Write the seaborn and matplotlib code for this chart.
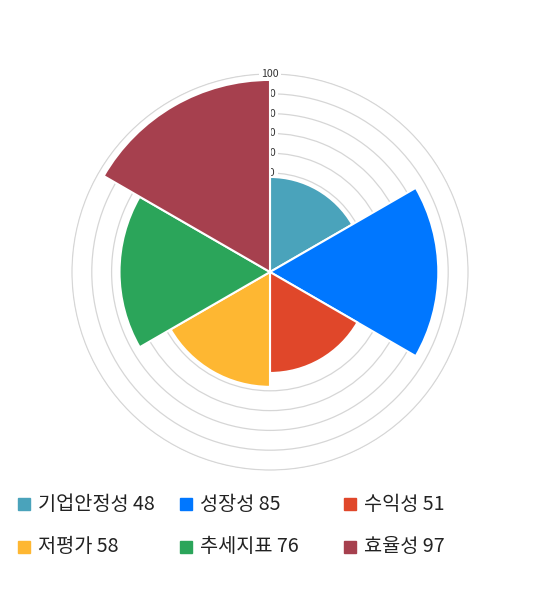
import numpy as np
import matplotlib
matplotlib.use("Agg")
import matplotlib.pyplot as plt
import seaborn as sns

# data
categories = ["기업안정성", "성장성", "수익성", "저평가", "추세지표", "효율성"]
scores = [48, 85, 51, 58, 76, 97]
colors = ["#4aa3bb", "#0077ff", "#e0472a", "#feb732", "#2ba55a", "#a6404e"]
ring_values = [10, 20, 30, 40, 50, 60, 70, 80, 90, 100]

sns.set_theme(style="white")
plt.rcParams["font.family"] = ["Noto Sans CJK KR", "DejaVu Sans"]

fig = plt.figure(figsize=(5.4, 5.9), dpi=100)
ax = fig.add_axes([71 / 540, 119 / 590, 398 / 540, 398 / 590], projection="polar")
ax.set_theta_zero_location("N")
ax.set_theta_direction(-1)

n = len(categories)
width = 2 * np.pi / n
theta = np.arange(n) * width + width / 2
ax.bar(theta, scores, width=width, color=colors, edgecolor="white",
       linewidth=1.5, zorder=3)

ax.set_ylim(0, 100.5)
ax.set_xticks([])
ax.set_yticks(ring_values)
ax.set_yticklabels([])
ax.yaxis.grid(True, color="#d6d6d6", linewidth=0.9)
ax.set_axisbelow(True)
ax.spines["polar"].set_visible(False)
ax.set_facecolor("white")

# tick labels sit under the wedges
for v in ring_values:
    ax.text(0, v, str(v), ha="center", va="center", fontsize=7.6,
            color="#333333", zorder=1,
            bbox=dict(boxstyle="square,pad=0.2", fc="white", ec="none"))

# legend, 3 per row
col_x = [18, 180, 344]
row_y = [504, 547]
for i, (name, val, c) in enumerate(zip(categories, scores, colors)):
    x = col_x[i % 3]
    y = row_y[i // 3]
    fig.patches.append(plt.Rectangle((x / 540, 1 - (y + 6) / 590), 12 / 540, 12 / 590,
                                     transform=fig.transFigure, color=c))
    fig.text((x + 20) / 540, 1 - y / 590, f"{name} {val}", fontsize=14.2,
             color="#222222", va="center", ha="left")

fig.savefig("out.png", dpi=100, facecolor="white")
